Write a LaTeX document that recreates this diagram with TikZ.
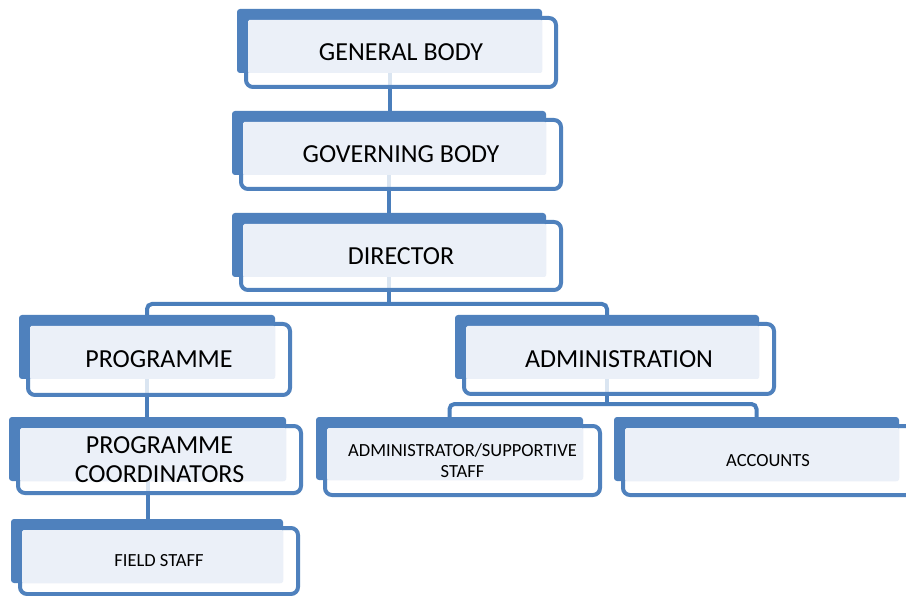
\documentclass[tikz,border=0pt]{standalone}
\usepackage{fontspec}
\setmainfont{Carlito}
\definecolor{obblue}{HTML}{4F81BD}
\definecolor{oblight}{HTML}{EBF0F8}
\definecolor{obline}{HTML}{4A7EBB}
\pgfdeclarelayer{paper}
\pgfdeclarelayer{links}
\pgfsetlayers{paper,links,main}
\newcommand\bigtxt{\fontsize{26}{29}\selectfont}
\newcommand\smalltxt{\fontsize{18.5}{21}\selectfont}
\tikzset{
  backbox/.style={rectangle, fill=obblue, rounded corners=3pt, inner sep=0pt, outer sep=0pt},
  frontbox/.style={rectangle, draw=obblue, line width=4pt, fill=white, fill opacity=0.8, rounded corners=7pt, inner sep=0pt, outer sep=0pt},
  lightbox/.style={rectangle, fill=oblight, rounded corners=1.5pt, inner sep=0pt, outer sep=0pt},
  labeltxt/.style={align=center, inner sep=0pt, text=black},
  conn/.style={draw=obline, line width=4pt},
}
\newcommand\orgbox[9]{%
  \node[backbox, minimum width={#4-#2}, minimum height={#5-#3}] (#1-b) at ({(#2+#4)/2},{(#3+#5)/2}) {};
  \node[frontbox, minimum width={#6-#2-11}, minimum height={#7-#3-11}] (#1-f) at ({(#2+7+#6)/2},{(#3+7+#7)/2}) {};
  \node[lightbox, minimum width={#4-#2-11}, minimum height={#5-#3-11}] (#1-l) at ({(#2+11+#4)/2},{(#3+11+#5)/2}) {};
  \node[labeltxt, font=#8] (#1) at (#1-f.center) {#9};
}
\begin{document}
\begin{tikzpicture}[x=1pt, y=-1pt]
\useasboundingbox (0,0) rectangle (906,596);
\clip (0,0) rectangle (906,596);
\begin{pgfonlayer}{paper}
  \fill[white] (0,0) rectangle (906,596);
\end{pgfonlayer}
\orgbox{gb}{237}{9}{542}{73}{558}{89}{\bigtxt}{GENERAL BODY}
\orgbox{gov}{232}{111}{546}{175}{563}{191}{\bigtxt}{GOVERNING BODY}
\orgbox{dir}{232}{213}{546}{277}{563}{292}{\bigtxt}{DIRECTOR}
\orgbox{prog}{19}{315}{275}{379}{292}{397}{\bigtxt}{PROGRAMME}
\orgbox{adm}{455}{315}{759}{379}{776}{396}{\bigtxt}{ADMINISTRATION}
\orgbox{pc}{9}{417}{286}{481}{303}{495}{\bigtxt}{PROGRAMME\\COORDINATORS}
\orgbox{fs}{11}{519}{283}{583}{300}{596}{\smalltxt}{FIELD STAFF}
\orgbox{as}{316}{417}{583}{480}{602}{497}{\smalltxt}{ADMINISTRATOR/SUPPORTIVE\\STAFF}
\orgbox{acc}{614}{417}{899}{481}{915}{497}{\smalltxt}{ACCOUNTS}
\coordinate (dbar) at (0,304);
\coordinate (abar) at (0,404);
\begin{pgfonlayer}{links}
  \draw[conn] (gb-b.south) -- (gb-b.south |- gov-b.north);
  \draw[conn] (gov-b.south) -- (gov-b.south |- dir-b.north);
  \draw[conn] (dir-b.south) -- (dir-b.south |- dbar);
  \draw[conn, rounded corners=5pt] (prog-b.north) -- (prog-b.north |- dbar) -- (adm-b.north |- dbar) -- (adm-b.north);
  \draw[conn] (prog-b.south) -- (prog-b.south |- pc-b.north);
  \draw[conn] (pc-b.south) -- (pc-b.south |- fs-b.north);
  \draw[conn] (adm-b.south) -- (adm-b.south |- abar);
  \draw[conn, rounded corners=5pt] (as-b.north) -- (as-b.north |- abar) -- (acc-b.north |- abar) -- (acc-b.north);
\end{pgfonlayer}
\end{tikzpicture}
\end{document}
